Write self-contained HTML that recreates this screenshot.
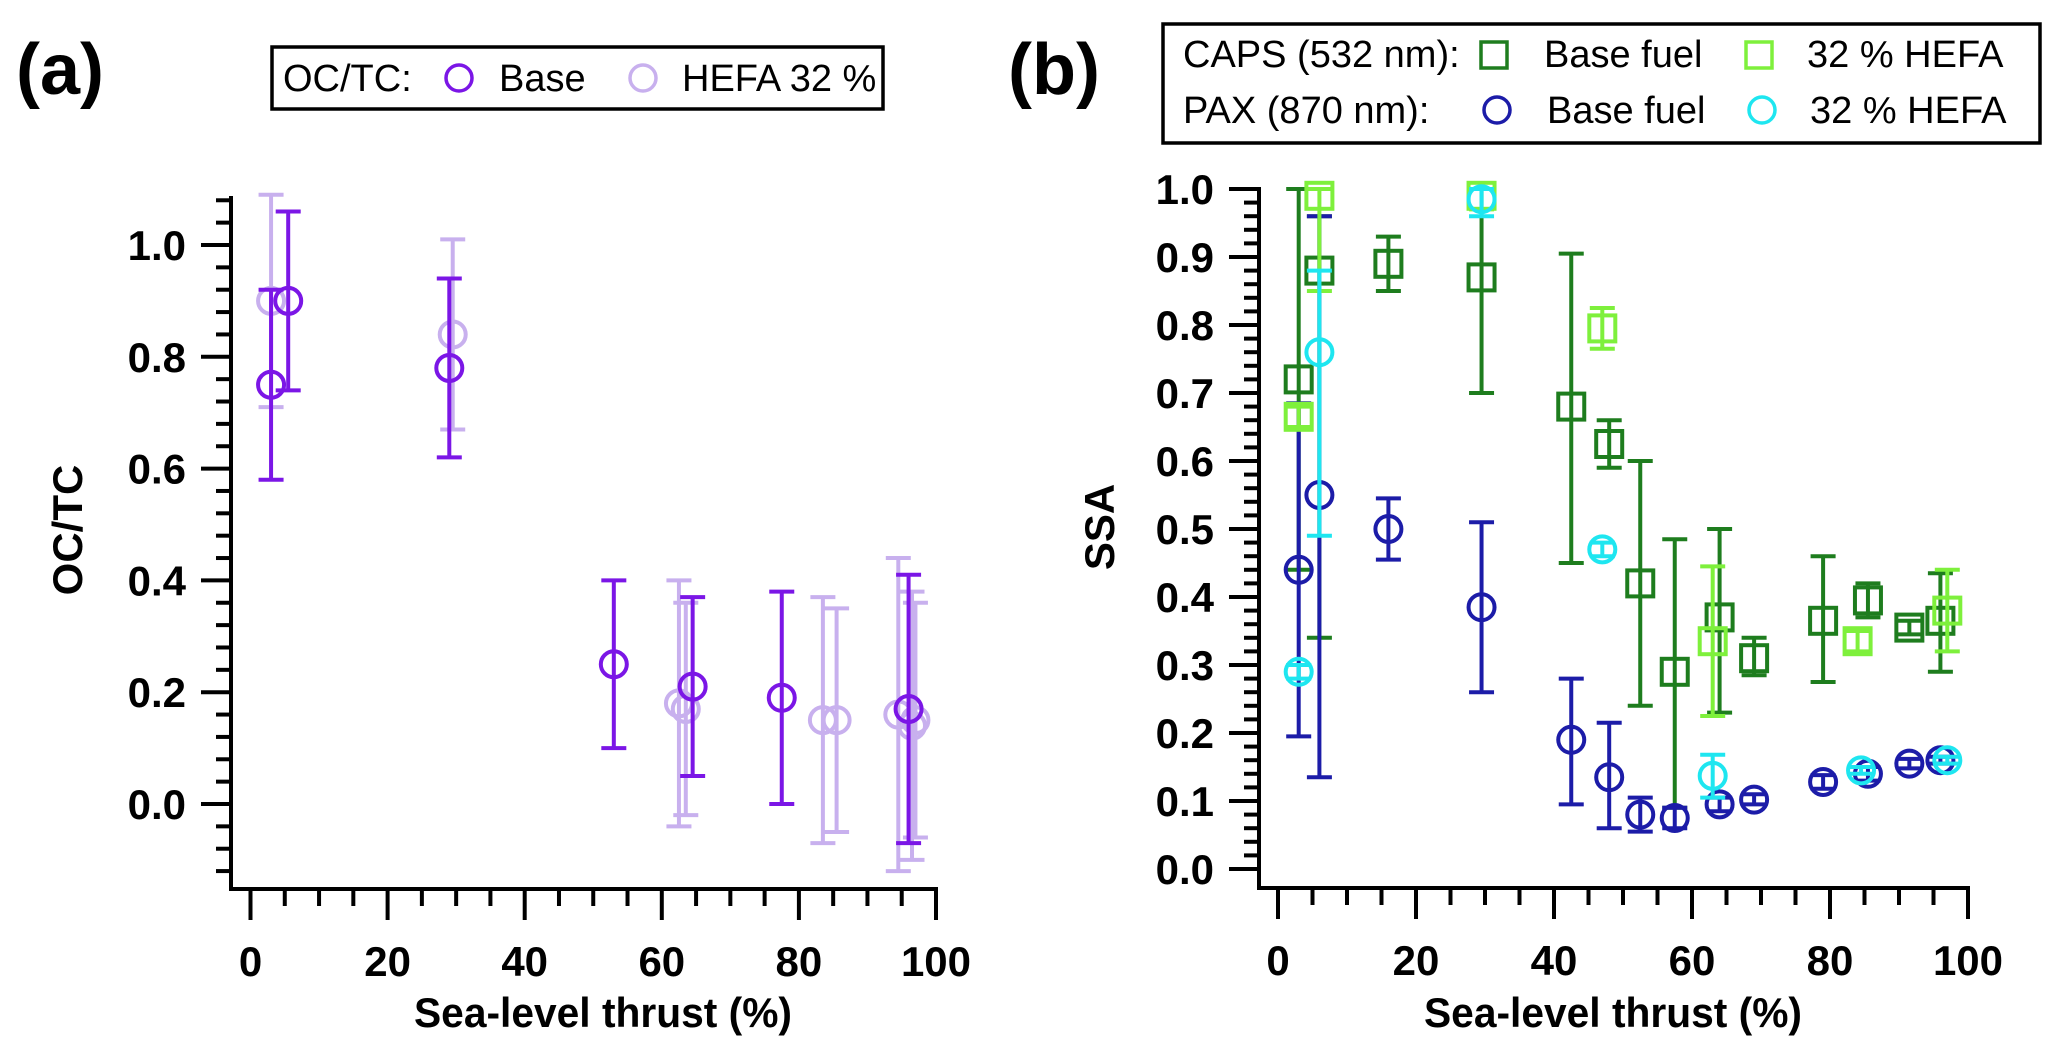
<!DOCTYPE html>
<html><head><meta charset="utf-8"><style>
html,body{margin:0;padding:0;background:#fff;}
svg{display:block;font-family:"Liberation Sans",Arial,sans-serif;}
</style></head><body>
<svg id="fig" width="2067" height="1060" viewBox="0 0 2067 1060">
<text x="16" y="94" font-size="72" font-weight="bold">(a)</text>
<text x="1008" y="94" font-size="72" font-weight="bold">(b)</text>
<g>
<rect x="272" y="47" width="611" height="62" fill="#fff" stroke="#000" stroke-width="3.5"/>
<text x="283" y="91" font-size="38">OC/TC:</text>
<circle cx="459" cy="78" r="13" fill="none" stroke="#7b16e6" stroke-width="3.5"/>
<text x="499" y="91" font-size="38">Base</text>
<circle cx="643" cy="78" r="13" fill="none" stroke="#c8b0ee" stroke-width="3.5"/>
<text x="682" y="91" font-size="38">HEFA 32 %</text>
</g>
<g>
<rect x="1163" y="24" width="877" height="119" fill="#fff" stroke="#000" stroke-width="3.5"/>
<text x="1183" y="67" font-size="38">CAPS (532 nm):</text>
<rect x="1481" y="42" width="26" height="26" fill="none" stroke="#1e7d1e" stroke-width="3.5"/>
<text x="1544" y="67" font-size="38">Base fuel</text>
<rect x="1746" y="42" width="26" height="26" fill="none" stroke="#7ef03c" stroke-width="3.5"/>
<text x="1807" y="67" font-size="38">32 % HEFA</text>
<text x="1183" y="123" font-size="38">PAX (870 nm):</text>
<circle cx="1497" cy="110" r="13" fill="none" stroke="#1c1ca8" stroke-width="3.5"/>
<text x="1547" y="123" font-size="38">Base fuel</text>
<circle cx="1762" cy="110" r="13" fill="none" stroke="#1ee6f0" stroke-width="3.5"/>
<text x="1810" y="123" font-size="38">32 % HEFA</text>
</g>
<g id="pa"></g><g id="pb"></g>
</svg>
<script>
// Panel (a) data: OC/TC
const aBaseX=[3,5.5,29,53,64.5,77.5,96];
const aBaseY=[0.75,0.90,0.78,0.25,0.21,0.19,0.17];
const aBaseLo=[0.58,0.74,0.62,0.10,0.05,0.00,-0.07];
const aBaseHi=[0.92,1.06,0.94,0.40,0.37,0.38,0.41];
const aHefaX=[3,29.5,62.5,63.5,83.5,85.5,94.5,96.5,97];
const aHefaY=[0.90,0.84,0.18,0.17,0.15,0.15,0.16,0.14,0.15];
const aHefaLo=[0.71,0.67,-0.04,-0.02,-0.07,-0.05,-0.12,-0.10,-0.06];
const aHefaHi=[1.09,1.01,0.40,0.36,0.37,0.35,0.44,0.38,0.36];
const aYTicks=["0.0","0.2","0.4","0.6","0.8","1.0"];
const xTicks=["0","20","40","60","80","100"];
// Panel (b) data: SSA
const capsBaseX=[3,6,16,29.5,42.5,48,52.5,57.5,64,69,79,85.5,91.5,96];
const capsBaseY=[0.72,0.88,0.89,0.87,0.68,0.625,0.42,0.29,0.37,0.31,0.365,0.395,0.355,0.365];
const capsBaseLo=[0.44,0.34,0.85,0.70,0.45,0.59,0.24,0.09,0.23,0.285,0.275,0.37,0.345,0.29];
const capsBaseHi=[1.0,0.96,0.93,1.0,0.905,0.66,0.60,0.485,0.50,0.34,0.46,0.42,0.365,0.435];
const capsHefaX=[3,6,29.5,47,63,84,97];
const capsHefaY=[0.665,0.99,0.99,0.795,0.335,0.335,0.38];
const capsHefaLo=[0.65,0.85,0.97,0.765,0.225,0.32,0.32];
const capsHefaHi=[0.68,1.0,1.0,0.825,0.445,0.35,0.44];
const paxBaseX=[3,6,16,29.5,42.5,48,52.5,57.5,64,69,79,85.5,91.5,96];
const paxBaseY=[0.44,0.55,0.50,0.385,0.19,0.135,0.08,0.075,0.095,0.102,0.128,0.14,0.155,0.16];
const paxBaseLo=[0.195,0.135,0.455,0.26,0.095,0.06,0.055,0.06,0.085,0.095,0.118,0.13,0.148,0.155];
const paxBaseHi=[0.685,0.96,0.545,0.51,0.28,0.215,0.105,0.09,0.105,0.11,0.138,0.15,0.162,0.165];
const paxHefaX=[3,6,29.5,47,63,84.5,97];
const paxHefaY=[0.29,0.76,0.985,0.47,0.137,0.145,0.16];
const paxHefaLo=[0.28,0.49,0.96,0.46,0.105,0.14,0.155];
const paxHefaHi=[0.30,0.88,1.0,0.48,0.168,0.15,0.165];
const bYTicks=["0.0","0.1","0.2","0.3","0.4","0.5","0.6","0.7","0.8","0.9","1.0"];

const NS="http://www.w3.org/2000/svg";
const SW=4;
function mk(parent,tag,attrs){const e=document.createElementNS(NS,tag);for(const k in attrs)e.setAttribute(k,attrs[k]);parent.appendChild(e);return e;}

function panel(g,cfg){
  const X=v=>cfg.x0+(v/100)*(cfg.x100-cfg.x0);
  const Y=v=>cfg.y0+v*(cfg.y1-cfg.y0);
  let ax=mk(g,'line',{x1:cfg.axX,y1:cfg.yTop,x2:cfg.axX,y2:cfg.axY+2,stroke:'#000','stroke-width':SW});
  
  
  let bx=mk(g,'line',{x1:cfg.axX-2,y1:cfg.axY,x2:X(100)+2,y2:cfg.axY,stroke:'#000','stroke-width':SW});
  
  
  for(let v=0;v<=100;v+=5){
    const major=v%20===0;
    const t=mk(g,'line',{x1:X(v),y1:cfg.axY,x2:X(v),y2:cfg.axY+(major?31:17),stroke:'#000','stroke-width':SW});
    
    
  }
  xTicks.forEach(s=>{
    const t=mk(g,'text',{x:X(+s),y:cfg.axY+87,'font-size':42,'font-weight':'bold','text-anchor':'middle'});
    t.textContent=s;
    
    
  });
  for(let i=0;;i++){
    const v=cfg.yMin+i*cfg.yMinor; if(v>cfg.yMax+1e-9)break;
    const r=Math.round(v/cfg.yMajor*1000)/1000; const major=Math.abs(r-Math.round(r))<1e-6;
    const t=mk(g,'line',{x1:cfg.axX,y1:Y(v),x2:cfg.axX-(major?30:15),y2:Y(v),stroke:'#000','stroke-width':SW});
    
    
  }
  cfg.yLabels.forEach(s=>{
    const t=mk(g,'text',{x:cfg.axX-45,y:Y(+s)+15,'font-size':42,'font-weight':'bold','text-anchor':'end'});
    t.textContent=s;
    
    
  });
  const xt=mk(g,'text',{x:cfg.xTitleX,y:1027,'font-size':42,'font-weight':'bold','text-anchor':'middle',textLength:378,lengthAdjust:'spacingAndGlyphs'});
  xt.textContent='Sea-level thrust (%)';
  
  
  const yt=mk(g,'text',{x:0,y:0,'font-size':42,'font-weight':'bold','text-anchor':'middle',transform:`translate(${cfg.yTitleX},${cfg.yTitleY}) rotate(-90)`});
  yt.textContent=cfg.yTitle;
  
  
  return {X,Y};
}

function series(g,sc,xs,ys,lo,hi,color,shape,name){
  const sg=mk(g,'g',{});
  
  
  xs.forEach((x,i)=>{
    const px=sc.X(x),pl=sc.Y(lo[i]),ph=sc.Y(hi[i]),py=sc.Y(ys[i]);
    const e=mk(sg,'path',{d:`M${px},${pl}V${ph}M${px-12.5},${pl}H${px+12.5}M${px-12.5},${ph}H${px+12.5}`,stroke:color,'stroke-width':SW,fill:'none'});
    
    
    let m;
    if(shape==='c') m=mk(sg,'circle',{cx:px,cy:py,r:13,fill:'none',stroke:color,'stroke-width':SW});
    else m=mk(sg,'rect',{x:px-13,y:py-13,width:26,height:26,fill:'none',stroke:color,'stroke-width':SW});
    
    
  });
}

const ga=document.getElementById('pa');


const sa=panel(ga,{x0:250.5,x100:936,y0:804,y1:245,axX:231,axY:889,yTop:196,yMin:-0.12,yMax:1.08,yMinor:0.04,yMajor:0.2,yLabels:aYTicks,xTitleX:603,yTitleX:82,yTitleY:530,yTitle:'OC/TC'});
series(ga,sa,aHefaX,aHefaY,aHefaLo,aHefaHi,'#c8b0ee','c','series-hefa');
series(ga,sa,aBaseX,aBaseY,aBaseLo,aBaseHi,'#7b16e6','c','series-base');

const gb=document.getElementById('pb');


const sb=panel(gb,{x0:1278,x100:1968,y0:869,y1:189,axX:1259,axY:888,yTop:187,yMin:0,yMax:1.0,yMinor:0.02,yMajor:0.1,yLabels:bYTicks,xTitleX:1613,yTitleX:1114,yTitleY:527,yTitle:'SSA'});
series(gb,sb,capsBaseX,capsBaseY,capsBaseLo,capsBaseHi,'#1e7d1e','s','series-caps-base');
series(gb,sb,paxBaseX,paxBaseY,paxBaseLo,paxBaseHi,'#1c1ca8','c','series-pax-base');
series(gb,sb,capsHefaX,capsHefaY,capsHefaLo,capsHefaHi,'#7ef03c','s','series-caps-hefa');
series(gb,sb,paxHefaX,paxHefaY,paxHefaLo,paxHefaHi,'#1ee6f0','c','series-pax-hefa');
</script>
</body></html>
